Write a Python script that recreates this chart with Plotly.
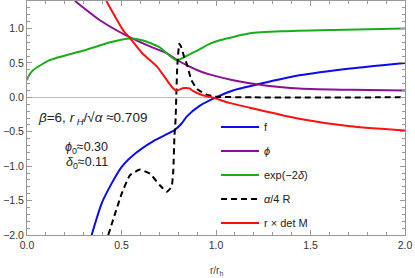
import plotly.graph_objects as go

# f
x_f = [0.342, 0.395, 0.448, 0.501, 0.571, 0.66, 0.73, 0.783, 0.818, 0.845, 0.915, 1.0, 1.09, 1.27, 1.44, 1.71, 2.0]
y_f = [-2.0, -1.54, -1.25, -1.01, -0.82, -0.65, -0.55, -0.47, -0.38, -0.28, -0.12, 0.0, 0.10, 0.22, 0.32, 0.42, 0.50]

# phi
x_phi = [0.254, 0.386, 0.545, 0.65, 0.74, 0.79, 0.85, 0.915, 0.97, 1.09, 1.27, 1.44, 1.71, 2.0]
y_phi = [1.40, 1.12, 0.87, 0.74, 0.64, 0.55, 0.46, 0.38, 0.33, 0.25, 0.17, 0.13, 0.11, 0.10]

# exp(-2 delta)
x_g = [0.0, 0.005, 0.03, 0.12, 0.30, 0.44, 0.545, 0.61, 0.70, 0.79, 0.85, 0.915, 0.968, 1.02, 1.18, 1.35, 1.62, 2.0]
y_g = [0.25, 0.29, 0.39, 0.54, 0.68, 0.80, 0.855, 0.83, 0.73, 0.54, 0.61, 0.70, 0.78, 0.83, 0.93, 0.96, 0.98, 1.0]

# alpha/4 R
x_R = [0.43, 0.466, 0.501, 0.545, 0.598, 0.651, 0.704, 0.739, 0.765, 0.774, 0.78, 0.786, 0.795, 0.806, 0.818,
       0.83, 0.845, 0.87, 0.90, 0.95, 1.0, 1.2, 2.0]
y_R = [-2.0, -1.69, -1.40, -1.13, -1.05, -1.11, -1.28, -1.37, -1.30, -1.06, -0.57, -0.33, 0.45, 0.78, 0.72,
       0.60, 0.49, 0.25, 0.12, 0.04, 0.01, 0.0, 0.0]

# r x det M
x_M = [0.42, 0.51, 0.545, 0.61, 0.69, 0.74, 0.77, 0.79, 0.83, 0.86, 0.88, 0.93, 0.98, 1.07, 1.18, 1.44, 1.71, 2.0]
y_M = [1.40, 0.97, 0.86, 0.64, 0.44, 0.25, 0.14, 0.10, 0.135, 0.13, 0.09, 0.03, 0.0, -0.08, -0.15, -0.31, -0.42, -0.48]

font = "Liberation Sans, Arial, sans-serif"

fig = go.Figure()
fig.add_trace(go.Scatter(x=x_f, y=y_f, mode="lines", name="f", legendgroup="a",
                         line=dict(color="#0a0af5", width=2, shape="spline", smoothing=0.6)))
fig.add_trace(go.Scatter(x=x_phi, y=y_phi, mode="lines", name="<i>ϕ</i>", legendgroup="b",
                         line=dict(color="#8a0f96", width=2, shape="spline", smoothing=0.6)))
fig.add_trace(go.Scatter(x=x_g, y=y_g, mode="lines", name="exp(−2<i>δ</i>)", legendgroup="c",
                         line=dict(color="#1aad1a", width=2, shape="spline", smoothing=0.6)))
fig.add_trace(go.Scatter(x=x_R, y=y_R, mode="lines", name="<i>α</i>/4 R", legendgroup="d",
                         line=dict(color="black", width=2, dash="6px,4px", shape="spline", smoothing=0.4)))
fig.add_trace(go.Scatter(x=x_M, y=y_M, mode="lines", name="r × det M", legendgroup="e",
                         line=dict(color="#ff1010", width=2, shape="spline", smoothing=0.6)))

axis_common = dict(showline=True, linecolor="#999999", linewidth=1, mirror="allticks",
                   ticks="inside", ticklen=5, tickcolor="#999999", showgrid=False, automargin=False,
                   tickfont=dict(family=font, size=10.5, color="#333333"),
                   minor=dict(ticks="inside", ticklen=3, dtick=0.1, tickcolor="#999999", showgrid=False))

fig.update_xaxes(range=[0, 2.0], dtick=0.5, tick0=0, tickformat=".1f", zeroline=False, **axis_common)
fig.update_yaxes(range=[-2.0, 1.4], dtick=0.5, tick0=0, tickformat=".1f", zeroline=True,
                 zerolinecolor="#bbbbbb", zerolinewidth=1, **axis_common)

fig.add_annotation(x=0.5, y=-0.155, xref="paper", yref="paper", yanchor="middle", showarrow=False,
                   text="r/r<sub>h</sub>", font=dict(family=font, size=10, color="#444444"))
fig.add_annotation(x=0.045, y=-0.30, xref="x", yref="y", xanchor="left", showarrow=False,
                   text="<i>β</i>=6, <i>r</i><sub> <i>H</i></sub>/√<i>α</i> ≈0.709",
                   font=dict(family=font, size=13.5, color="#222222"))
fig.add_annotation(x=0.317, y=-0.73, xref="x", yref="y", showarrow=False,
                   text="<i>ϕ</i><sub>0</sub>≈0.30",
                   font=dict(family=font, size=12.5, color="#222222"))
fig.add_annotation(x=0.317, y=-0.95, xref="x", yref="y", showarrow=False,
                   text="<i>δ</i><sub>0</sub>≈0.11",
                   font=dict(family=font, size=12.5, color="#222222"))

fig.update_layout(
    width=415, height=278,
    margin=dict(l=27, r=10, t=1, b=43),
    paper_bgcolor="white", plot_bgcolor="white",
    showlegend=True,
    legend=dict(x=0.5, y=0.523, xanchor="left", yanchor="top", bgcolor="rgba(0,0,0,0)",
                font=dict(family=font, size=11, color="#222222"), tracegroupgap=5,
                itemwidth=38),
)

fig.write_html("out.html", config={"displayModeBar": False},
               post_script="document.body.style.margin='0';document.body.style.overflow='hidden';")
